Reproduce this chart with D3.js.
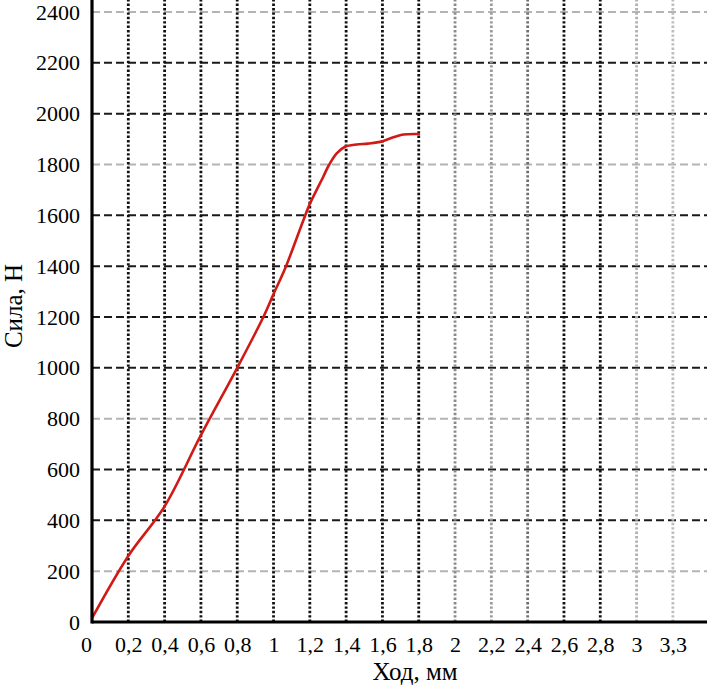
<!DOCTYPE html>
<html>
<head>
<meta charset="utf-8">
<script src="https://cdn.jsdelivr.net/npm/d3@7"></script>
<style>
  body { margin: 0; background: #fff; }
  svg { display: block; }
</style>
</head>
<body>
<svg id="chart"></svg>
<script>
// stroke (mm) vs force (N)
const strokeMm = [0, 0.2, 0.4, 0.6, 0.8, 0.944, 1.0, 1.069, 1.164, 1.2, 1.274, 1.307,
    1.348, 1.394, 1.458, 1.52, 1.587, 1.66, 1.715, 1.807];
const forceN = [15, 260, 455, 735, 1000, 1200, 1290, 1400, 1580, 1645, 1752, 1800,
    1844, 1870, 1879, 1882, 1889, 1907, 1918, 1920];

const xTickValues = [0, 0.2, 0.4, 0.6, 0.8, 1, 1.2, 1.4, 1.6, 1.8, 2, 2.2, 2.4, 2.6, 2.8, 3, 3.2];
const xTickLabels = ['0', '0,2', '0,4', '0,6', '0,8', '1', '1,2', '1,4', '1,6', '1,8',
    '2', '2,2', '2,4', '2,6', '2,8', '3', '3,3'];
const yTickValues = [0, 200, 400, 600, 800, 1000, 1200, 1400, 1600, 1800, 2000, 2200, 2400];

const xTitle = 'Ход, мм';
const yTitle = 'Сила, Н';

const width = 707, height = 689;
const margin = {left: 92, right: 0, top: 12, bottom: 67};
const font = '"Liberation Serif", serif';

// grid line tones (the scan is uneven)
const vGridTone = {2: '#8a8a8a', 2.2: '#9a9a9a', 2.4: '#707070', 3: '#b0b0b0', 3.2: '#bdbdbd'};
const hGridTone = {200: '#b4b4b4', 800: '#b4b4b4', 1800: '#b4b4b4', 2400: '#b4b4b4'};

const svg = d3.select('#chart')
    .attr('width', width)
    .attr('height', height);

const xScale = d3.scaleLinear()
    .domain([0, 3.388])
    .range([margin.left, width - margin.right]);
const yScale = d3.scaleLinear()
    .domain([0, 2400])
    .range([height - margin.bottom, margin.top]);

// horizontal grid
svg.append('g')
    .selectAll('line')
    .data(yTickValues.filter(function(d) { return d > 0; }))
    .join('line')
    .attr('x1', xScale(0))
    .attr('x2', xScale.range()[1])
    .attr('y1', function(d) { return yScale(d); })
    .attr('y2', function(d) { return yScale(d); })
    .attr('stroke', function(d) { return hGridTone[d] || '#1a1a1a'; })
    .attr('stroke-width', 2)
    .attr('stroke-dasharray', '8,4');

// vertical grid
svg.append('g')
    .selectAll('line')
    .data(xTickValues.filter(function(d) { return d > 0; }))
    .join('line')
    .attr('x1', function(d) { return xScale(d); })
    .attr('x2', function(d) { return xScale(d); })
    .attr('y1', yScale(0))
    .attr('y2', 0)
    .attr('stroke', function(d) { return vGridTone[d] || '#111'; })
    .attr('stroke-width', 2.8)
    .attr('stroke-dasharray', '2.4,2');

// curve
const points = strokeMm.map(function(d, i) { return {x: d, y: forceN[i]}; });
const line = d3.line()
    .x(function(d) { return xScale(d.x); })
    .y(function(d) { return yScale(d.y); })
    .curve(d3.curveCatmullRom.alpha(0.5));

svg.append('path')
    .attr('d', line(points))
    .attr('fill', 'none')
    .attr('stroke', '#d01a16')
    .attr('stroke-width', 2.6)
    .attr('stroke-linejoin', 'round');

// axes
const xAxis = d3.axisBottom(xScale)
    .tickValues(xTickValues)
    .tickFormat(function(d, i) { return xTickLabels[i]; })
    .tickSize(0)
    .tickPadding(14);
const yAxis = d3.axisLeft(yScale)
    .tickValues(yTickValues)
    .tickFormat(d3.format('d'))
    .tickSize(0)
    .tickPadding(12);

const gx = svg.append('g')
    .attr('transform', 'translate(0,' + yScale(0) + ')')
    .call(xAxis);
const gy = svg.append('g')
    .attr('transform', 'translate(' + xScale(0) + ',0)')
    .call(yAxis);

[gx, gy].forEach(function(g) {
    g.select('.domain').remove();
    g.attr('font-family', font).attr('font-size', 22);
    g.selectAll('text')
        .attr('fill', '#000')
        .style('font-family', font)
        .style('font-size', '22px');
});
gx.selectAll('text')
    .filter(function(d) { return d === 0; })
    .attr('dx', -6);

svg.append('line')
    .attr('x1', xScale(0)).attr('x2', xScale(0))
    .attr('y1', yScale(0) + 1.5).attr('y2', 0)
    .attr('stroke', '#000')
    .attr('stroke-width', 3.2);
svg.append('line')
    .attr('x1', xScale(0)).attr('x2', xScale.range()[1])
    .attr('y1', yScale(0)).attr('y2', yScale(0))
    .attr('stroke', '#000')
    .attr('stroke-width', 3.2);

// titles
svg.append('text')
    .attr('x', 415)
    .attr('y', 680)
    .attr('text-anchor', 'middle')
    .style('font-family', font)
    .style('font-size', '25px')
    .text(xTitle);

svg.append('text')
    .attr('transform', 'translate(22,306) rotate(-90)')
    .attr('text-anchor', 'middle')
    .style('font-family', font)
    .style('font-size', '25px')
    .text(yTitle);
</script>
</body>
</html>
